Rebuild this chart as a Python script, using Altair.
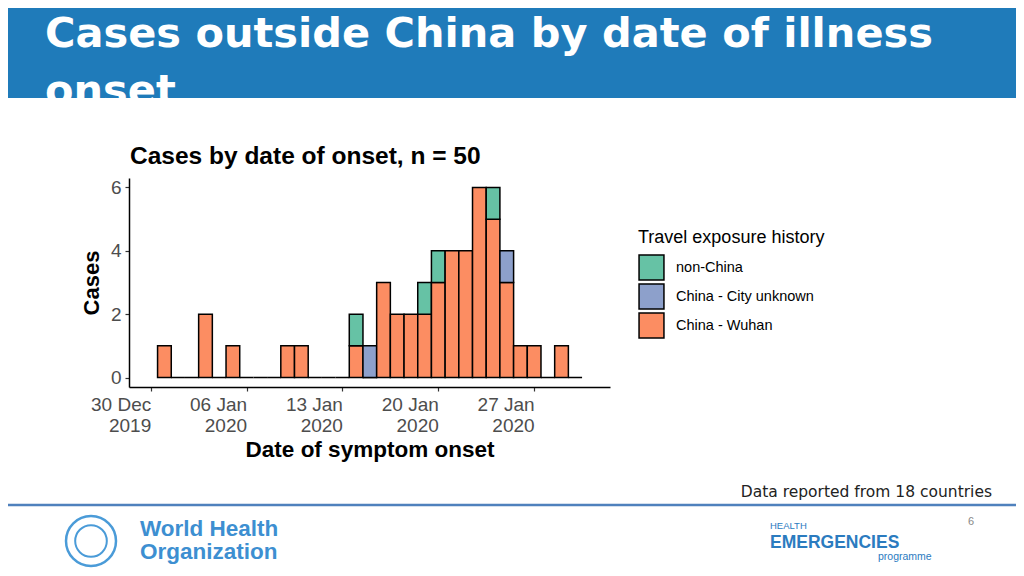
import altair as alt
import pandas as pd

# ---------------- data ----------------
dates = ["2019-12-31", "2020-01-01", "2020-01-02", "2020-01-03", "2020-01-04",
         "2020-01-05", "2020-01-06", "2020-01-07", "2020-01-08", "2020-01-09",
         "2020-01-10", "2020-01-11", "2020-01-12", "2020-01-13", "2020-01-14",
         "2020-01-15", "2020-01-16", "2020-01-17", "2020-01-18", "2020-01-19",
         "2020-01-20", "2020-01-21", "2020-01-22", "2020-01-23", "2020-01-24",
         "2020-01-25", "2020-01-26", "2020-01-27", "2020-01-28", "2020-01-29",
         "2020-01-30"]
wuhan = [1, 0, 0, 2, 0, 1, 0, 0, 0, 1, 1, 0, 0, 0, 1, 0, 3, 2, 2, 2, 3, 4, 4, 6, 5, 3, 1, 1, 0, 1, 0]
city_unknown = [0, 0, 0, 0, 0, 0, 0, 0, 0, 0, 0, 0, 0, 0, 0, 1, 0, 0, 0, 0, 0, 0, 0, 0, 0, 1, 0, 0, 0, 0, 0]
non_china = [0, 0, 0, 0, 0, 0, 0, 0, 0, 0, 0, 0, 0, 0, 1, 0, 0, 0, 0, 1, 1, 0, 0, 0, 1, 0, 0, 0, 0, 0, 0]

categories = ["non-China", "China - City unknown", "China - Wuhan"]
colors = ["#66C2A5", "#8DA0CB", "#FC8D62"]
tick_dates = ["2019-12-30", "2020-01-06", "2020-01-13", "2020-01-20", "2020-01-27"]
tick_labels = [["30 Dec", "2019"], ["06 Jan", "2020"], ["13 Jan", "2020"],
               ["20 Jan", "2020"], ["27 Jan", "2020"]]
y_ticks = [0, 2, 4, 6]

slide_title_1 = "Cases outside China by date of illness"
slide_title_2 = "onset"
chart_title = "Cases by date of onset, n = 50"
footnote = "Data reported from 18 countries"
page_no = "6"
who_lines = ["World Health", "Organization"]

# ---------------- table ----------------
origin = pd.Timestamp("2019-12-30")
rows = []
for d, w, u, n in zip(dates, wuhan, city_unknown, non_china):
    day = (pd.Timestamp(d) - origin).days
    for cat, val, o in (("China - Wuhan", w, 0), ("China - City unknown", u, 1), ("non-China", n, 2)):
        if val > 0 or o == 0:
            rows.append(dict(date=d, day=day, start=day - 0.5, end=day + 0.5,
                             category=cat, cases=val, ord=o))
df = pd.DataFrame(rows)
tick_vals = [(pd.Timestamp(t) - origin).days for t in tick_dates]
label_expr = ("[" + ",".join("['%s','%s']" % (a, b) for a, b in tick_labels) + "]"
              + "[indexof(" + str(tick_vals) + ", datum.value)]")

FONT = "Liberation Sans"

bars = alt.Chart(df).transform_stack(
    stack="cases", as_=["y0", "y1"], groupby=["day"], sort=[alt.SortField("ord", order="ascending")]
).mark_rect(stroke="black", strokeWidth=1.5).encode(
    x=alt.X("start:Q",
            scale=alt.Scale(domain=[-1.586, 33.54], nice=False, zero=False),
            axis=alt.Axis(values=tick_vals, labelExpr=label_expr, labelAlign="right",
                          labelBaseline="top", labelFontSize=19, labelLineHeight=21,
                          labelColor="#4d4d4d", labelFont=FONT, labelPadding=4,
                          tickSize=4, tickColor="#333333", tickWidth=1.2,
                          domainColor="black", domainWidth=1.5, grid=False,
                          labelOverlap=False, labelFlush=False, labelBound=False,
                          title="Date of symptom onset", titleFontSize=22.5, titleFont=FONT,
                          titleFontWeight="bold", titleColor="black", titlePadding=3)),
    x2="end:Q",
    y=alt.Y("y1:Q",
            scale=alt.Scale(domain=[-0.3, 6.3], nice=False, zero=False),
            axis=alt.Axis(values=y_ticks, labelFontSize=19, labelColor="#4d4d4d",
                          labelFont=FONT, labelPadding=4, tickSize=4, tickColor="#333333",
                          tickWidth=1.2, domainColor="black", domainWidth=1.5, grid=False,
                          title="Cases", titleFontSize=22, titleFont=FONT,
                          titleFontWeight="bold", titleColor="black", titlePadding=7)),
    y2="y0:Q",
    fill=alt.Fill("category:N",
                  scale=alt.Scale(domain=categories, range=colors),
                  legend=alt.Legend(title="Travel exposure history", orient="none",
                                    legendX=509, legendY=51, symbolType="square",
                                    symbolSize=620, symbolStrokeColor="black",
                                    symbolStrokeWidth=1.5, symbolOpacity=1,
                                    titleFontSize=18, titleFont=FONT, titleFontWeight="normal",
                                    titleColor="black", titleLimit=400, labelLimit=300,
                                    labelFontSize=14.5, labelFont=FONT,
                                    labelColor="black", labelOffset=11, rowPadding=-6,
                                    titlePadding=7)),
)


def text_layer(txt, x, y, size, color, weight="normal", font=FONT, align="left", line_height=None):
    kw = dict(align=align, baseline="alphabetic", fontSize=size, font=font,
              fontWeight=weight, color=color)
    if line_height is not None:
        kw["lineHeight"] = line_height
    return alt.Chart(pd.DataFrame({"k": [0]})).mark_text(**kw).encode(
        x=alt.value(x), y=alt.value(y), text=alt.value(txt))


one = pd.DataFrame({"k": [0]})
band = alt.Chart(one).mark_rect(color="#1F7BBA").encode(
    x=alt.value(-140), x2=alt.value(900), y=alt.value(-190), y2=alt.value(-80))
cover = alt.Chart(one).mark_rect(color="white").encode(
    x=alt.value(-140), x2=alt.value(900), y=alt.value(-80), y2=alt.value(-55))
footer_line = alt.Chart(one).mark_rule(color="#4F81BD", strokeWidth=2.5).encode(
    x=alt.value(-140), x2=alt.value(900), y=alt.value(327))
emblem_outer = alt.Chart(one).mark_point(shape="circle", size=2500, color="#4A9BD8",
                                         strokeWidth=2.5, filled=False, opacity=1).encode(
    x=alt.value(-38), y=alt.value(363))
emblem_inner = alt.Chart(one).mark_point(shape="circle", size=1000, color="#4A9BD8",
                                         strokeWidth=2, filled=False, opacity=1).encode(
    x=alt.value(-38), y=alt.value(363))

layers = [
    band,
    text_layer(slide_title_1, -84, -131, 41.5, "white", "bold", "DejaVu Sans"),
    text_layer(slide_title_2, -84, -74, 41.5, "white", "bold", "DejaVu Sans"),
    cover,
    text_layer(chart_title, 1, -14, 24.5, "black", "bold"),
    bars,
    footer_line,
    text_layer(footnote, 863, 319, 15.5, "#222222", "normal", "DejaVu Sans", align="right"),
    text_layer(page_no, 839, 347, 11, "#888888"),
    emblem_outer,
    emblem_inner,
    text_layer(who_lines, 11, 358, 22.5, "#3D8FD1", "bold", line_height=23),
    text_layer("HEALTH", 641, 351, 9.5, "#2B7BBF"),
    text_layer("EMERGENCIES", 641, 370, 17.5, "#2B7BBF", "bold"),
    text_layer("programme", 749, 382, 10.5, "#2B7BBF"),
]

chart = alt.layer(*layers).properties(
    width=481, height=209,
    padding={"left": 121, "top": 170, "right": 406, "bottom": 181},
    autosize=alt.AutoSizeParams(type="none"),
    background="white",
).configure_view(stroke=None)

chart.save("out.html", embed_options={"renderer": "svg", "actions": False})
